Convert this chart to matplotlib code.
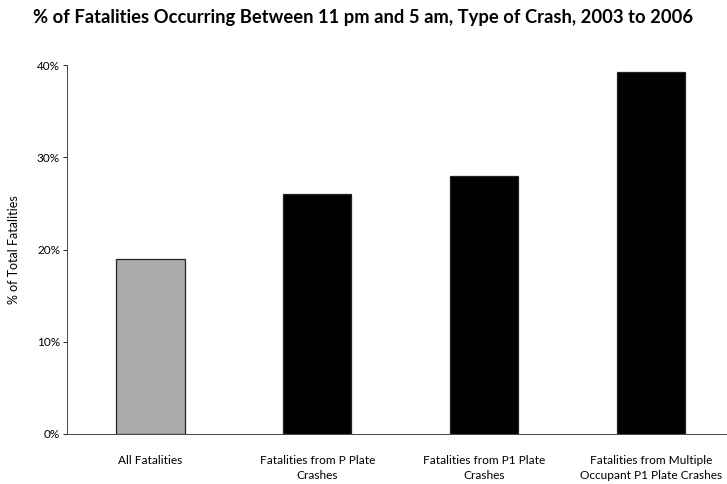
import matplotlib
matplotlib.use("Agg")
import matplotlib.pyplot as plt
from matplotlib.ticker import FuncFormatter

categories = [
    "All Fatalities",
    "Fatalities from P Plate\nCrashes",
    "Fatalities from P1 Plate\nCrashes",
    "Fatalities from Multiple\nOccupant P1 Plate Crashes",
]
values = [19.0, 26.0, 28.0, 39.2]
bar_colors = ["#ababab", "#000000", "#000000", "#000000"]
yticks = [0, 10, 20, 30, 40]

plt.rcParams["font.family"] = ["Lato", "DejaVu Sans"]

fig = plt.figure(figsize=(7.27, 4.84), dpi=100)
ax = fig.add_axes([67 / 727, 1 - 434 / 484, (726 - 67) / 727, (434 - 65) / 484])

x = list(range(len(categories)))
ax.bar(x, values, width=0.41, color=bar_colors, edgecolor="#222222", linewidth=0.9)

ax.set_xlim(-0.5, 3.45)
ax.set_ylim(0, 40)
ax.set_yticks(yticks)
ax.yaxis.set_major_formatter(FuncFormatter(lambda v, p: f"{int(v)}%"))
ax.set_xticks(x)
ax.set_xticklabels(categories, fontsize=8.6, linespacing=1.5)
ax.tick_params(axis="x", length=0, pad=15)
ax.tick_params(axis="y", length=3, width=0.6, labelsize=8.5, pad=2)

for s in ("top", "right"):
    ax.spines[s].set_visible(False)
for s in ("left", "bottom"):
    ax.spines[s].set_linewidth(0.7)
    ax.spines[s].set_color("#444444")

ax.set_ylabel("% of Total Fatalities", fontsize=9, labelpad=12)

fig.text(363 / 727, 1 - 18 / 484,
         "% of Fatalities Occurring Between 11 pm and 5 am, Type of Crash, 2003 to 2006",
         ha="center", va="center", fontsize=13.2, fontweight="bold")

fig.savefig("out.png", dpi=100)
